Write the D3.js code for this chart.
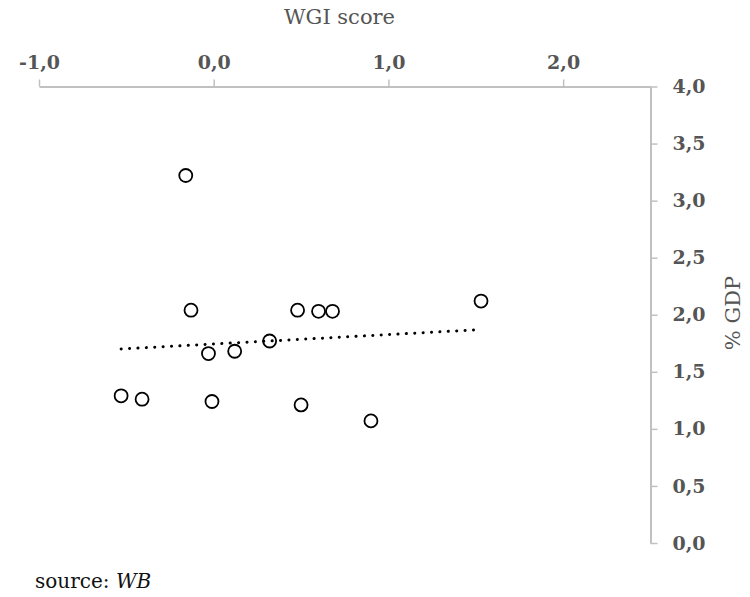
<!DOCTYPE html>
<html>
<head>
<meta charset="utf-8">
<script src="https://cdn.jsdelivr.net/npm/d3@7"></script>
<style>
  body { margin: 0; background: #fff; }
  svg { display: block; }
</style>
</head>
<body>
<div id="chart"></div>
<script>
// WGI score (x) vs % GDP (y), one circle per country
const wgiScore = [-0.16, -0.13, 0.48, 0.60, 0.68, 1.53, 0.32, -0.03, 0.12, -0.53, -0.41, -0.01, 0.50, 0.90];
const gdpShare = [3.22, 2.04, 2.04, 2.03, 2.03, 2.12, 1.77, 1.66, 1.68, 1.29, 1.26, 1.24, 1.21, 1.07];
// linear trend endpoints
const trendX = [-0.53, 1.53];
const trendY = [1.70, 1.87];
const xTicks = [-1, 0, 1, 2];
const yTicks = [0, 0.5, 1, 1.5, 2, 2.5, 3, 3.5, 4];

const width = 750, height = 597;
const font = "'DejaVu Serif', serif";
const grey = "#555555";
const axisGrey = "#c0c0c0";

const svg = d3.select("#chart")
    .append("svg")
    .attr("width", width)
    .attr("height", height)
    .style("background", "#fff");

const x = d3.scaleLinear().domain([-1, 2.5]).range([39, 650.5]);
const y = d3.scaleLinear().domain([0, 4]).range([543, 86.5]);

const fmt = d => d.toFixed(1).replace(".", ",");

// top axis
const xAxis = svg.append("g")
    .attr("transform", `translate(0,${y(4)})`)
    .call(d3.axisTop(x).tickValues(xTicks).tickFormat(fmt).tickSize(7).tickPadding(11).tickSizeOuter(0));

// right axis
const yAxis = svg.append("g")
    .attr("transform", `translate(${x(2.5)},0)`)
    .call(d3.axisRight(y).tickValues(yTicks).tickFormat(fmt).tickSize(7).tickPadding(15).tickSizeOuter(0));

for (const g of [xAxis, yAxis]) {
    g.select(".domain").attr("stroke", axisGrey).attr("stroke-width", 2);
    g.selectAll(".tick line").attr("stroke", axisGrey).attr("stroke-width", 1.5);
    g.selectAll(".tick text")
        .attr("fill", grey)
        .style("font-family", font)
        .style("font-weight", "bold")
        .style("font-size", "19px");
}
yAxis.selectAll(".tick text").attr("text-anchor", "start");

svg.append("text")
    .attr("x", x(0.72))
    .attr("y", 24)
    .attr("text-anchor", "middle")
    .attr("fill", grey)
    .style("font-family", font)
    .style("font-size", "21px")
    .text("WGI score");

svg.append("text")
    .attr("transform", `translate(740,313) rotate(-90)`)
    .attr("text-anchor", "middle")
    .attr("fill", grey)
    .style("font-family", font)
    .style("font-size", "21px")
    .text("% GDP");

// trend line
svg.append("line")
    .attr("x1", x(trendX[0]))
    .attr("y1", y(trendY[0]))
    .attr("x2", x(trendX[1]))
    .attr("y2", y(trendY[1]))
    .attr("stroke", "#000")
    .attr("stroke-width", 3)
    .attr("stroke-linecap", "round")
    .attr("stroke-dasharray", "0.1 8.3");

// points
const pts = wgiScore.map((d, i) => ({ wgi: d, gdp: gdpShare[i] }));
svg.append("g")
    .selectAll("circle")
    .data(pts)
    .join("circle")
    .attr("cx", d => x(d.wgi))
    .attr("cy", d => y(d.gdp))
    .attr("r", 6.5)
    .attr("fill", "none")
    .attr("stroke", "#000")
    .attr("stroke-width", 1.8);

const src = svg.append("text")
    .attr("x", 35)
    .attr("y", 588)
    .attr("fill", "#111")
    .style("font-family", font)
    .style("font-size", "20px");
src.append("tspan").text("source: ");
src.append("tspan").style("font-style", "italic").text("WB");
</script>
</body>
</html>
